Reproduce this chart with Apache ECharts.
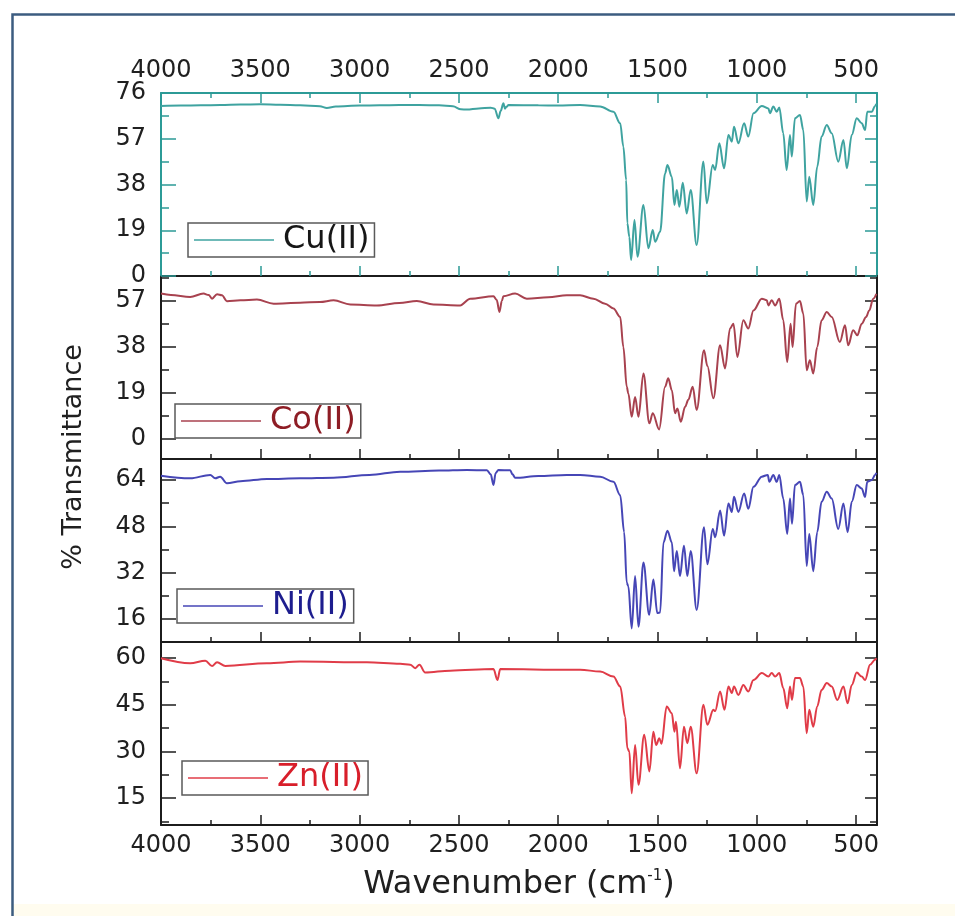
<!DOCTYPE html>
<html>
<head>
<meta charset="utf-8">
<script src="https://cdn.jsdelivr.net/npm/echarts@6/dist/echarts.min.js"></script>
<style>
  html, body { margin: 0; padding: 0; background: #ffffff; }
  #chart { width: 955px; height: 916px; }
</style>
</head>
<body>
<div id="chart"></div>
<script>
// FT-IR spectra (% transmittance vs wavenumber) of the Cu, Co, Ni and Zn complexes

const wnCu = [4000,3900,3800,3700,3600,3500,3400,3300,3200,3165,3120,3000,2900,2800,2700,2600,2530,2490,2460,2400,2340,2320,2301,2290,2276,2268,2262,2250,2100,2000,1890,1789,1722,1688,1672,1658,1652,1642,1633,1616,1601,1571,1546,1524,1512,1487,1462,1450,1428,1415,1403,1390,1373,1353,1333,1303,1269,1252,1222,1210,1189,1165,1143,1126,1115,1093,1064,1043,1017,975,942,934,917,900,887,867,850,833,824,808,783,766,749,736,716,696,674,648,623,590,564,547,522,497,472,455,444,421,405,398];
const tCu  = [70.6,70.8,70.9,71.0,71.2,71.3,71.1,70.9,70.5,69.8,70.4,70.8,70.9,71.0,71.0,70.9,70.5,69.2,69.1,69.6,69.9,69.5,65.5,68.5,71.7,69.5,70.2,71.0,70.9,70.8,71.0,70.4,68.2,63.4,53.7,39.9,21.9,16.3,6.6,23.3,8.0,29.5,11.5,19.1,14.2,18.4,42.6,46.1,41.2,29.5,35.7,28.8,38.7,26.0,35.7,12.9,47.5,30.2,46.1,44.0,55.1,44.7,58.6,55.8,62.0,55.1,63.4,57.9,67.6,70.6,69.6,67.6,70.4,68.2,70.0,59.3,44.0,58.6,49.6,65.5,66.9,60.6,30.9,41.2,29.5,45.4,57.9,62.7,59.3,47.5,56.5,44.7,58.6,65.5,63.4,60.6,68.2,68.2,70.6,71.5];

const wnCo = [4000,3950,3853,3786,3760,3743,3718,3693,3668,3600,3517,3433,3300,3200,3131,3047,2913,2800,2712,2628,2494,2443,2326,2310,2296,2284,2276,2217,2158,2050,1957,1890,1823,1764,1722,1688,1672,1655,1647,1630,1613,1596,1571,1541,1524,1492,1462,1446,1428,1412,1400,1383,1361,1345,1323,1303,1266,1249,1219,1185,1160,1135,1118,1098,1068,1043,1017,975,950,942,925,908,887,867,847,830,820,803,783,766,749,733,716,696,674,648,623,582,556,540,515,494,472,450,434,414,398];
const tCo  = [60.1,59.5,58.7,60.1,59.5,58.0,59.8,59.4,56.9,57.3,57.6,55.9,56.3,56.6,57.3,55.6,55.2,56.2,57.0,55.6,55.2,58.0,59.0,57.5,52.5,57.0,59.0,60.1,58.0,58.6,59.4,59.4,58.0,55.9,53.9,50.4,37.9,21.4,18.6,8.9,17.2,8.9,26.9,6.2,10.4,3.7,21.4,24.9,20.0,10.4,12.4,6.9,13.1,16.0,21.4,11.7,36.6,30.0,16.6,38.6,29.0,45.6,47.6,33.8,49.0,45.6,53.1,58.0,57.3,55.2,57.3,55.2,58.0,49.0,31.7,47.6,37.9,55.9,57.0,51.8,28.3,32.4,26.9,37.9,49.0,52.4,50.4,40.0,46.9,38.6,44.9,42.8,47.6,50.4,53.1,58.0,60.0];

const wnNi = [4000,3853,3752,3727,3702,3668,3600,3467,3300,3131,2950,2796,2600,2460,2359,2340,2326,2315,2301,2242,2230,2217,2100,1957,1890,1789,1722,1688,1668,1655,1647,1630,1613,1596,1571,1542,1521,1501,1487,1470,1450,1428,1417,1403,1387,1367,1350,1333,1303,1266,1249,1222,1210,1185,1165,1143,1126,1115,1093,1064,1043,1017,975,945,937,917,900,887,867,847,833,823,808,783,766,749,736,716,696,674,648,623,590,564,543,522,497,472,455,444,421,405,398];
const tNi  = [65.5,64.6,65.8,64.6,65.2,62.9,63.6,64.4,64.6,64.8,65.8,66.9,67.3,67.5,67.4,66.0,62.3,66.5,67.5,67.4,66.0,64.8,65.4,65.8,65.8,65.2,63.4,58.8,46.0,28.5,27.3,12.7,30.8,13.3,35.5,17.4,29.6,18.0,18.2,42.5,46.5,42.5,32.5,39.5,30.8,41.3,30.8,39.5,19.1,47.7,34.9,47.1,44.2,53.5,44.8,55.9,53.0,58.2,53.0,59.4,54.1,61.7,65.2,65.8,63.4,65.8,63.4,65.8,57.6,45.4,57.6,48.9,62.3,63.4,58.8,34.3,45.4,32.5,46.0,56.5,60.0,57.6,47.1,55.9,46.0,56.5,62.3,61.1,58.2,63.4,64.0,65.8,66.5];

const wnZn = [4000,3853,3777,3743,3718,3676,3467,3299,2963,2796,2745,2720,2699,2670,2544,2326,2306,2292,1957,1890,1789,1722,1688,1663,1652,1642,1630,1613,1596,1567,1541,1521,1507,1491,1480,1454,1428,1415,1407,1387,1367,1350,1333,1303,1269,1249,1219,1210,1185,1163,1143,1126,1115,1093,1068,1043,1017,975,942,925,908,887,867,847,833,823,808,783,766,749,736,716,696,674,648,623,595,564,543,522,497,472,455,430,405,398];
const tZn  = [60.0,58.4,59.2,57.5,58.7,57.5,58.4,58.9,58.7,58.2,57.9,56.8,57.9,55.4,56.0,56.5,53.0,56.5,56.3,56.3,55.7,54.1,50.9,41.2,31.1,30.0,16.6,32.1,19.3,35.4,23.6,36.4,32.1,34.3,32.5,44.5,42.3,36.4,39.6,24.6,38.0,32.7,38.0,23.0,45.0,38.6,43.4,43.0,49.3,43.4,50.9,48.8,50.9,48.2,51.4,49.3,53.0,55.2,54.1,55.2,54.1,55.2,50.4,43.9,50.9,46.6,53.6,53.6,50.9,35.9,43.4,38.0,44.5,49.8,52.0,50.9,46.6,50.9,45.5,51.4,55.4,54.1,53.0,57.9,59.5,60.0];

// Axis tick values
const xMajorTicks = [4000, 3500, 3000, 2500, 2000, 1500, 1000, 500];
const xMinorTicks = [3750, 3250, 2750, 2250, 1750, 1250, 750];
const yMajorCu = [0, 19, 38, 57, 76];
const yMinorCu = [9.5, 28.5, 47.5, 66.5];
const yMajorCo = [0, 19, 38, 57];
const yMinorCo = [9.5, 28.5, 47.5, 66.5];
const yMajorNi = [16, 32, 48, 64];
const yMinorNi = [24, 40, 56];
const yMajorZn = [15, 30, 45, 60];
const yMinorZn = [7.5, 22.5, 37.5, 52.5];

const names = ['Cu(II)', 'Co(II)', 'Ni(II)', 'Zn(II)'];

const panels = [
  { name: names[0], wn: wnCu, t: tCu, color: '#3fa3a0', frame: '#2c9b97', text: '#161616',
    yMin: 0, yMax: 76, major: yMajorCu, minor: yMinorCu, legendPos: [188, 223] },
  { name: names[1], wn: wnCo, t: tCo, color: '#a8424f', frame: '#1c1c1c', text: '#8e1d25',
    yMin: -8.6, yMax: 67.4, major: yMajorCo, minor: yMinorCo, legendPos: [175, 404] },
  { name: names[2], wn: wnNi, t: tNi, color: '#4646b6', frame: '#1c1c1c', text: '#1d1d8e',
    yMin: 8, yMax: 71.3, major: yMajorNi, minor: yMinorNi, legendPos: [177, 589] },
  { name: names[3], wn: wnZn, t: tZn, color: '#e03c48', frame: '#1c1c1c', text: '#d81e2a',
    yMin: 6.4, yMax: 65.2, major: yMajorZn, minor: yMinorZn, legendPos: [182, 761] }
];

const FONT = 'DejaVu Sans';
const plotTop = 93, panelH = 183, plotLeft = 161, plotRight = 78;
const plainNumber = v => String(v);

const grids = [], xAxes = [], yAxes = [], series = [], legends = [];

panels.forEach((p, i) => {
  grids.push({ left: plotLeft, right: plotRight, top: plotTop + i * panelH, height: panelH });

  const tickStyle = { color: p.frame, width: 1.5 };
  const xBase = { type: 'value', gridIndex: i, min: 395, max: 4000, inverse: true,
                  splitLine: { show: false } };
  const labelStyle = { fontFamily: FONT, fontSize: 24, color: '#202020', formatter: plainNumber };

  // bottom x axis with major ticks; the spectrum is plotted against it
  const xIndex = xAxes.length;
  xAxes.push(Object.assign({}, xBase, {
    position: 'bottom',
    axisLine: { show: true, onZero: false, lineStyle: { color: p.frame, width: 2 } },
    axisTick: { show: true, inside: true, length: 10, customValues: xMajorTicks, lineStyle: tickStyle },
    axisLabel: Object.assign({ show: i === 3, customValues: xMajorTicks, margin: 9 }, labelStyle),
    name: i === 3 ? 'Wavenumber (cm{sup|-1})' : '',
    nameLocation: 'middle',
    nameGap: 44,
    nameTextStyle: {
      fontFamily: FONT, fontSize: 32, color: '#202020',
      rich: { sup: { fontFamily: FONT, fontSize: 15, color: '#202020', verticalAlign: 'top', padding: [0, 0, 14, 0] } }
    }
  }));
  // bottom minor ticks
  xAxes.push(Object.assign({}, xBase, {
    position: 'bottom',
    axisLine: { show: false, onZero: false },
    axisTick: { show: true, inside: true, length: 5, customValues: xMinorTicks, lineStyle: tickStyle },
    axisLabel: { show: false }
  }));
  // top frame line (ticks and labels only on the first panel)
  xAxes.push(Object.assign({}, xBase, {
    position: 'top',
    axisLine: { show: true, onZero: false, lineStyle: { color: p.frame, width: 2 } },
    axisTick: { show: i === 0, inside: true, length: 10, customValues: xMajorTicks, lineStyle: tickStyle },
    axisLabel: Object.assign({ show: i === 0, customValues: xMajorTicks, margin: 10 }, labelStyle)
  }));
  xAxes.push(Object.assign({}, xBase, {
    position: 'top',
    axisLine: { show: false, onZero: false },
    axisTick: { show: i === 0, inside: true, length: 5, customValues: xMinorTicks, lineStyle: tickStyle },
    axisLabel: { show: false }
  }));

  const yBase = { type: 'value', gridIndex: i, min: p.yMin, max: p.yMax, splitLine: { show: false } };
  const yIndex = yAxes.length;
  // left axis: labelled major ticks
  yAxes.push(Object.assign({}, yBase, {
    position: 'left',
    axisLine: { show: true, onZero: false, lineStyle: { color: p.frame, width: 2 } },
    axisTick: { show: true, inside: true, length: 15, customValues: p.major, lineStyle: tickStyle },
    axisLabel: Object.assign({ show: true, customValues: p.major, margin: 15 }, labelStyle)
  }));
  // left minor ticks
  yAxes.push(Object.assign({}, yBase, {
    position: 'left',
    axisLine: { show: false, onZero: false },
    axisTick: { show: true, inside: true, length: 8, customValues: p.minor, lineStyle: tickStyle },
    axisLabel: { show: false }
  }));
  // right frame with ticks
  yAxes.push(Object.assign({}, yBase, {
    position: 'right',
    axisLine: { show: true, onZero: false, lineStyle: { color: p.frame, width: 2 } },
    axisTick: { show: true, inside: true, length: 12, customValues: p.major, lineStyle: tickStyle },
    axisLabel: { show: false }
  }));
  yAxes.push(Object.assign({}, yBase, {
    position: 'right',
    axisLine: { show: false, onZero: false },
    axisTick: { show: true, inside: true, length: 7, customValues: p.minor, lineStyle: tickStyle },
    axisLabel: { show: false }
  }));

  series.push({
    name: p.name,
    type: 'line',
    xAxisIndex: xIndex,
    yAxisIndex: yIndex,
    data: p.wn.map((w, k) => [w, p.t[k]]),
    showSymbol: false,
    smooth: 0.35,
    smoothMonotone: 'x',
    lineStyle: { color: p.color, width: 2 },
    itemStyle: { color: p.color },
    z: 3
  });

  legends.push({
    data: [p.name],
    left: p.legendPos[0],
    top: p.legendPos[1],
    orient: 'horizontal',
    icon: 'rect',
    itemWidth: 80,
    itemHeight: 1.5,
    selectedMode: false,
    borderColor: '#5a5a5a',
    borderWidth: 1.5,
    borderRadius: 0,
    padding: [1, 5, 1, 6],
    backgroundColor: '#ffffff',
    textStyle: { fontFamily: FONT, fontSize: 32, color: p.text, padding: [0, 0, 0, 4] }
  });
});

const chart = echarts.init(document.getElementById('chart'), null, { renderer: 'canvas' });
chart.setOption({
  backgroundColor: '#ffffff',
  animation: false,
  grid: grids,
  xAxis: xAxes,
  yAxis: yAxes,
  legend: legends,
  series: series,
  graphic: [
    { type: 'rect', left: 11, top: 904, shape: { width: 944, height: 12 },
      style: { fill: '#fffcef' }, silent: true, z: -1 },
    { type: 'rect', left: 10, top: 12, shape: { x: 0, y: 0, width: 960, height: 920 },
      style: { fill: 'none', stroke: '#3c5c80', lineWidth: 2.5 }, silent: true },
    { type: 'text', x: 74, y: 457, rotation: Math.PI / 2,
      style: { text: '% Transmittance', fontFamily: FONT, fontSize: 27, fill: '#202020',
               align: 'center', verticalAlign: 'middle' }, silent: true }
  ]
});
</script>
</body>
</html>
